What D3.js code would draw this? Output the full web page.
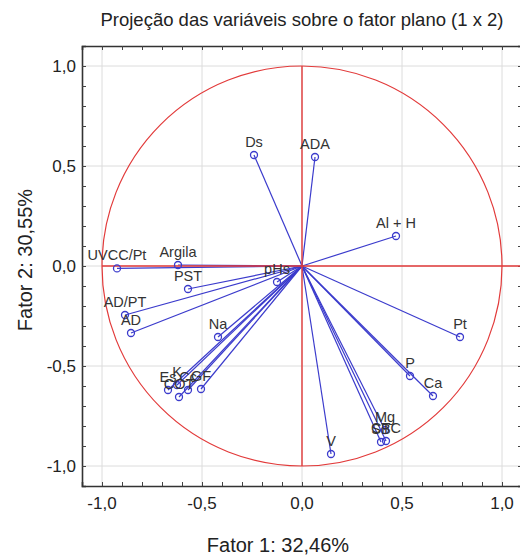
<!DOCTYPE html>
<html>
<head>
<meta charset="utf-8">
<title>Projeção das variáveis</title>
<script src="https://cdn.jsdelivr.net/npm/d3@7"></script>
<style>
body{margin:0;background:#fff;}
svg{display:block;font-family:"Liberation Sans",Arial,sans-serif;}
</style>
</head>
<body>
<div id="chart"></div>
<script>
// variable loadings on factor 1 and factor 2
var varNames = ["Ds","ADA","Al + H","Pt","P","Ca","Mg","SB","CTC","V","Es","K","Cc","GF","COT","Na","AD","AD/PT","PST","Argila","UVCC/Pt","pHs"];
var factor1  = [-0.24, 0.065, 0.47, 0.79, 0.54, 0.655, 0.415, 0.395, 0.42, 0.145, -0.67, -0.625, -0.57, -0.505, -0.615, -0.42, -0.855, -0.885, -0.57, -0.62, -0.925, -0.125];
var factor2  = [0.555, 0.545, 0.15, -0.355, -0.55, -0.65, -0.82, -0.88, -0.875, -0.94, -0.62, -0.595, -0.62, -0.615, -0.655, -0.355, -0.335, -0.245, -0.115, 0.005, -0.012, -0.08];
var tickVals = [-1, -0.5, 0, 0.5, 1];
var tickLabels = ["-1,0", "-0,5", "0,0", "0,5", "1,0"];

var width = 520, height = 557;
var svg = d3.select("#chart").append("svg")
    .attr("width", width)
    .attr("height", height);

var x = d3.scaleLinear().domain([-1.1, 1.1]).range([82, 522]);
var y = d3.scaleLinear().domain([-1.1, 1.1]).range([486, 46]);

var data = varNames.map(function(n, i){ return {name: n, f1: factor1[i], f2: factor2[i]}; });

// grid
svg.append("g").selectAll("line").data(tickVals).enter().append("line")
  .attr("x1", function(d){ return x(d); }).attr("x2", function(d){ return x(d); })
  .attr("y1", y(1.1)).attr("y2", y(-1.1))
  .attr("stroke", "#dcdcdc").attr("stroke-width", 1);
svg.append("g").selectAll("line").data(tickVals).enter().append("line")
  .attr("y1", function(d){ return y(d); }).attr("y2", function(d){ return y(d); })
  .attr("x1", x(-1.1)).attr("x2", x(1.1))
  .attr("stroke", "#dcdcdc").attr("stroke-width", 1);

// frame axes with inward ticks every 0.1
var minor = d3.range(-10, 11).map(function(d){ return d / 10; });
svg.append("g").attr("transform", "translate(0," + y(-1.1) + ")")
  .call(d3.axisTop(x).tickValues(minor).tickSize(4).tickFormat(""));
svg.append("g").attr("transform", "translate(0," + y(1.1) + ")")
  .call(d3.axisBottom(x).tickValues(minor).tickSize(4).tickFormat(""));
svg.append("g").attr("transform", "translate(" + x(-1.1) + ",0)")
  .call(d3.axisRight(y).tickValues(minor).tickSize(4).tickFormat(""));
svg.append("g").attr("transform", "translate(" + x(1.1) + ",0)")
  .call(d3.axisLeft(y).tickValues(minor).tickSize(4).tickFormat(""));
svg.selectAll(".domain").attr("stroke", "#333").attr("stroke-width", 1.6);
svg.selectAll(".tick line").attr("stroke", "#444");

// tick labels
svg.append("g").selectAll("text").data(tickVals).enter().append("text")
  .attr("x", function(d){ return x(d); }).attr("y", 509)
  .attr("text-anchor", "middle").attr("font-size", 17).attr("fill", "#222")
  .text(function(d, i){ return tickLabels[i]; });
svg.append("g").selectAll("text").data(tickVals).enter().append("text")
  .attr("x", 76).attr("y", function(d){ return y(d) + 6; })
  .attr("text-anchor", "end").attr("font-size", 17).attr("fill", "#222")
  .text(function(d, i){ return tickLabels[i]; });

// vectors
var blue = "#3b3bcc";
svg.append("g").selectAll("line").data(data).enter().append("line")
  .attr("x1", x(0)).attr("y1", y(0))
  .attr("x2", function(d){ return x(d.f1); })
  .attr("y2", function(d){ return y(d.f2); })
  .attr("stroke", blue).attr("stroke-width", 1.2);

// unit circle and red cross
var red = "#e23a3a";
svg.append("ellipse")
  .attr("cx", x(0)).attr("cy", y(0))
  .attr("rx", x(1) - x(0)).attr("ry", y(0) - y(1))
  .attr("fill", "none").attr("stroke", red).attr("stroke-width", 1.2);
svg.append("line")
  .attr("x1", x(-1)).attr("x2", x(1.1)).attr("y1", y(0)).attr("y2", y(0))
  .attr("stroke", red).attr("stroke-width", 1.4);
svg.append("line")
  .attr("x1", x(0)).attr("x2", x(0)).attr("y1", y(1)).attr("y2", y(-1))
  .attr("stroke", red).attr("stroke-width", 1.4);

// point markers
svg.append("g").selectAll("circle").data(data).enter().append("circle")
  .attr("cx", function(d){ return x(d.f1); })
  .attr("cy", function(d){ return y(d.f2); })
  .attr("r", 3.5)
  .attr("fill", "none").attr("stroke", blue).attr("stroke-width", 1.3);

// labels
svg.append("g").selectAll("text").data(data).enter().append("text")
  .attr("x", function(d){ return x(d.f1); })
  .attr("y", function(d){ return y(d.f2) - 8; })
  .attr("text-anchor", "middle").attr("font-size", 14.5).attr("fill", "#333")
  .text(function(d){ return d.name; });

// titles
svg.append("text").attr("x", 302).attr("y", 26)
  .attr("text-anchor", "middle").attr("font-size", 18.5).attr("fill", "#222")
  .text("Projeção das variáveis sobre o fator plano (1 x 2)");
svg.append("text").attr("x", 278).attr("y", 552)
  .attr("text-anchor", "middle").attr("font-size", 20).attr("fill", "#222")
  .text("Fator 1: 32,46%");
svg.append("text").attr("transform", "translate(32,260) rotate(-90)")
  .attr("text-anchor", "middle").attr("font-size", 20).attr("fill", "#222")
  .text("Fator 2: 30,55%");
</script>
</body>
</html>
